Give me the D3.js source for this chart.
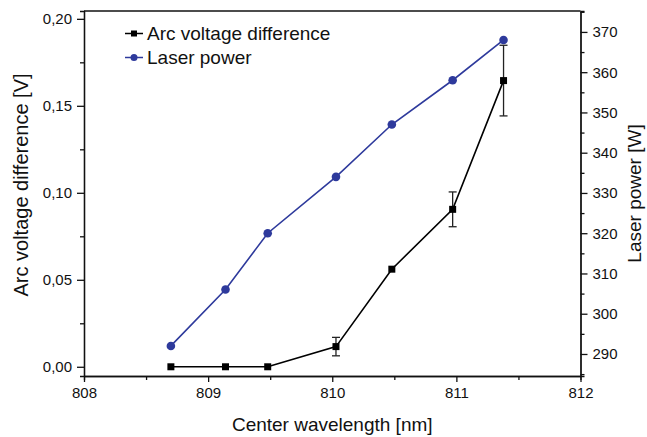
<!DOCTYPE html>
<html>
<head>
<meta charset="utf-8">
<script src="https://cdn.jsdelivr.net/npm/d3@7"></script>
<style>
    body { margin: 0; background: #fff; }
    svg { display: block; font-family: "Liberation Sans", Arial, sans-serif; }
    .axis path, .axis line { stroke: #111; stroke-width: 1.3; }
    .axis text { font-size: 15px; fill: #111; }
    .title { font-size: 19px; fill: #111; }
</style>
</head>
<body>
<div id="chart"></div>
<script>
// data
var wavelength = [808.70, 809.14, 809.48, 810.03, 810.48, 810.97, 811.38];
var arcVoltage = [0, 0, 0, 0.0116, 0.0561, 0.0905, 0.1645];
var arcError = [0, 0, 0, 0.0053, 0, 0.0100, 0.0203];
var laserPower = [292, 306, 320, 334, 347, 358, 368];

var xTicks = [808, 809, 810, 811, 812];
var leftTicks = [0, 0.05, 0.10, 0.15, 0.20];
var rightTicks = [290, 300, 310, 320, 330, 340, 350, 360, 370];

var seriesNames = ["Arc voltage difference", "Laser power"];
var blue = "#2e3a9c";

function minorTicks(major, step) {
    "use strict";
    // half-way ticks between the majors
    var out = [];
    major.forEach(function(v) { out.push(v + step); });
    return out;
}

function drawChart() {
    "use strict";
    var width = 647, height = 437;
    var left = 84, right = 580.5, top = 11, bottom = 376;

    var comma = d3.formatLocale({
        decimal: ",", thousands: ".", grouping: [3], currency: ["", ""]
    }).format(".2f");

    var svg = d3.select("#chart").append("svg")
        .attr("width", width)
        .attr("height", height);

    var x = d3.scaleLinear().domain([808, 812]).range([left, right]);
    var yL = d3.scaleLinear().domain([-0.0053, 0.2045]).range([bottom, top]);
    var yR = d3.scaleLinear().domain([284.53, 375.2]).range([bottom, top]);

    // minor ticks first
    svg.append("g").attr("class", "axis")
        .attr("transform", "translate(0," + bottom + ")")
        .call(d3.axisBottom(x).tickValues(minorTicks(xTicks.slice(0, 4), 0.5))
            .tickSize(4).tickFormat(""));
    svg.append("g").attr("class", "axis")
        .attr("transform", "translate(" + left + ",0)")
        .call(d3.axisLeft(yL).tickValues(minorTicks(leftTicks.slice(0, 4), 0.025))
            .tickSize(4).tickFormat(""));
    svg.append("g").attr("class", "axis")
        .attr("transform", "translate(" + right + ",0)")
        .call(d3.axisRight(yR).tickValues(minorTicks(rightTicks, 5).concat([285]))
            .tickSize(4).tickFormat(""));

    // major ticks
    svg.append("g").attr("class", "axis")
        .attr("transform", "translate(0," + bottom + ")")
        .call(d3.axisBottom(x).tickValues(xTicks).tickSize(6).tickSizeOuter(0)
            .tickPadding(5).tickFormat(d3.format("d")));
    svg.append("g").attr("class", "axis")
        .attr("transform", "translate(" + left + ",0)")
        .call(d3.axisLeft(yL).tickValues(leftTicks).tickSize(7).tickSizeOuter(0)
            .tickPadding(5).tickFormat(comma));
    svg.append("g").attr("class", "axis")
        .attr("transform", "translate(" + right + ",0)")
        .call(d3.axisRight(yR).tickValues(rightTicks).tickSize(7).tickSizeOuter(0)
            .tickPadding(5).tickFormat(d3.format("d")));

    // top frame line
    svg.append("line")
        .attr("x1", left).attr("x2", right)
        .attr("y1", top).attr("y2", top)
        .attr("stroke", "#111").attr("stroke-width", 1.3);

    var arcData = wavelength.map(function(w, i) {
        return {x: w, y: arcVoltage[i], e: arcError[i]};
    });
    var powerData = wavelength.map(function(w, i) {
        return {x: w, y: laserPower[i]};
    });

    // laser power
    svg.append("path")
        .datum(powerData)
        .attr("fill", "none")
        .attr("stroke", blue)
        .attr("stroke-width", 1.6)
        .attr("d", d3.line()
            .x(function(d) { return x(d.x); })
            .y(function(d) { return yR(d.y); }));
    svg.selectAll("circle.power")
        .data(powerData)
        .enter()
        .append("circle")
        .attr("class", "power")
        .attr("cx", function(d) { return x(d.x); })
        .attr("cy", function(d) { return yR(d.y); })
        .attr("r", 4.3)
        .attr("fill", blue);

    // arc voltage with error bars
    svg.append("path")
        .datum(arcData)
        .attr("fill", "none")
        .attr("stroke", "#000")
        .attr("stroke-width", 1.6)
        .attr("d", d3.line()
            .x(function(d) { return x(d.x); })
            .y(function(d) { return yL(d.y); }));

    var bars = svg.selectAll("g.err")
        .data(arcData.filter(function(d) { return d.e > 0; }))
        .enter()
        .append("g")
        .attr("class", "err")
        .attr("stroke", "#222")
        .attr("stroke-width", 1.3);
    bars.append("line")
        .attr("x1", function(d) { return x(d.x); })
        .attr("x2", function(d) { return x(d.x); })
        .attr("y1", function(d) { return yL(d.y - d.e); })
        .attr("y2", function(d) { return yL(d.y + d.e); });
    [-1, 1].forEach(function(s) {
        bars.append("line")
            .attr("x1", function(d) { return x(d.x) - 4; })
            .attr("x2", function(d) { return x(d.x) + 4; })
            .attr("y1", function(d) { return yL(d.y + s * d.e); })
            .attr("y2", function(d) { return yL(d.y + s * d.e); });
    });

    svg.selectAll("rect.arc")
        .data(arcData)
        .enter()
        .append("rect")
        .attr("class", "arc")
        .attr("x", function(d) { return x(d.x) - 3.5; })
        .attr("y", function(d) { return yL(d.y) - 3.5; })
        .attr("width", 7)
        .attr("height", 7)
        .attr("fill", "#000");

    // axis titles
    svg.append("text")
        .attr("class", "title")
        .attr("x", (left + right) / 2)
        .attr("y", 431)
        .attr("text-anchor", "middle")
        .text("Center wavelength [nm]");
    svg.append("text")
        .attr("class", "title")
        .attr("text-anchor", "middle")
        .style("font-size", "20px")
        .attr("transform", "translate(28,185) rotate(-90)")
        .text("Arc voltage difference [V]");
    svg.append("text")
        .attr("class", "title")
        .attr("text-anchor", "middle")
        .attr("transform", "translate(641," + (top + bottom) / 2 + ") rotate(-90)")
        .text("Laser power [W]");

    // legend
    var legend = svg.append("g").attr("class", "legend");
    seriesNames.forEach(function(name, i) {
        var cy = 33.5 + i * 24;
        var col = i === 0 ? "#000" : blue;
        legend.append("line")
            .attr("x1", 125).attr("x2", 143)
            .attr("y1", cy).attr("y2", cy)
            .attr("stroke", col).attr("stroke-width", 1.5);
        if (i === 0) {
            legend.append("rect")
                .attr("x", 131).attr("y", cy - 3)
                .attr("width", 6).attr("height", 6)
                .attr("fill", col);
        } else {
            legend.append("circle")
                .attr("cx", 134).attr("cy", cy).attr("r", 3.5)
                .attr("fill", col);
        }
        legend.append("text")
            .attr("class", "title")
            .attr("x", 147)
            .attr("y", cy)
            .attr("dy", "0.35em")
            .text(name);
    });
}

drawChart();
</script>
</body>
</html>
